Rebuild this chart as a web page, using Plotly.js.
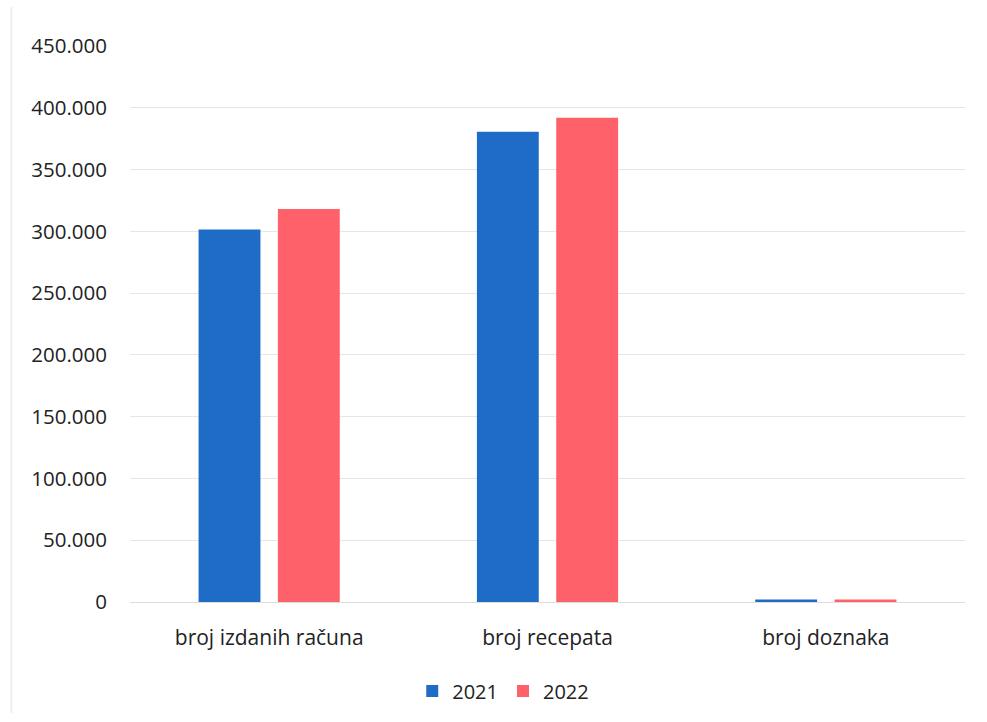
<!DOCTYPE html>
<html>
<head>
<meta charset="utf-8">
<script src="https://cdn.plot.ly/plotly-3.0.1.min.js"></script>
<style>html,body{margin:0;padding:0;background:#fff;}#chart{width:987px;height:722px;}</style>
</head>
<body>
<div id="chart"></div>
<script>
const categories = ["broj izdanih računa", "broj recepata", "broj doznaka"];
const series2021 = [301500, 380500, 2000];
const series2022 = [318000, 392000, 2000];
const seriesNames = ["2021", "2022"];
const yTicks = [0, 50000, 100000, 150000, 200000, 250000, 300000, 350000, 400000, 450000];

const font = "'Open Sans', 'Noto Sans', sans-serif";
const traces = [
  {type: "bar", name: seriesNames[0], x: categories, y: series2021, marker: {color: "#1f6cc6"}, hoverinfo: "x+y"},
  {type: "bar", name: seriesNames[1], x: categories, y: series2022, marker: {color: "#ff616a"}, hoverinfo: "x+y"}
];
const layout = {
  width: 987, height: 722,
  margin: {l: 130, r: 22, t: 46, b: 120},
  paper_bgcolor: "#fff", plot_bgcolor: "#fff",
  separators: ",.",
  barmode: "group", bargap: 0.43, bargroupgap: 0.22,
  font: {family: font, color: "#222"},
  xaxis: {
    showgrid: false, zeroline: false, showline: false, ticks: "",
    tickfont: {size: 21, color: "#222"}, ticklabelstandoff: 21
  },
  yaxis: {
    range: [0, 450000], tickvals: yTicks, tickformat: ",d",
    showgrid: true, gridcolor: "#e6e6e6", gridwidth: 1,
    zeroline: true, zerolinecolor: "#dddddd", showline: false, ticks: "",
    tickfont: {size: 20.5, color: "#222"}, ticklabelstandoff: 22
  },
  showlegend: true,
  legend: {orientation: "h", x: 0.447, xanchor: "center", y: -0.125, yanchor: "top",
           font: {size: 20, color: "#222"}, itemwidth: 30, traceorder: "normal"},
  shapes: [{type: "line", xref: "paper", yref: "paper", x0: -0.142, x1: -0.142, y0: -0.2, y1: 1.07,
            line: {color: "#eeeeee", width: 2}}]
};
Plotly.newPlot("chart", traces, layout, {displayModeBar: false, staticPlot: true});
</script>
</body>
</html>
